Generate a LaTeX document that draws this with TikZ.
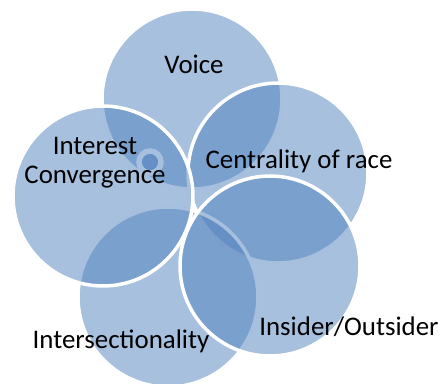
\documentclass[tikz,border=0pt]{standalone}
\usepackage{fontspec}
\setmainfont{Carlito}
\definecolor{tenetblue}{HTML}{4F81BD}

\begin{document}
\begin{tikzpicture}[x=0.02cm,y=-0.02cm]
\tikzset{bubble/.style = {shape=circle, draw=white, line width=0.07cm, fill=tenetblue, fill opacity=0.5, minimum size=3.6cm, inner sep=0pt}}
\tikzset{tenet/.style = {font=\fontsize{15.3}{16.5}\selectfont, align=center, inner sep=0pt}}

\useasboundingbox (0,0) rectangle (440,383);
\clip (0,0) rectangle (440,383);

%circles
\node[bubble] (voice) at (192,99) {};
\node[bubble, minimum size=0.44cm, line width=0.11cm] (dot) at (150,162) {};
\node[bubble] (race) at (278,173) {};
\node[bubble] (inter) at (168,297) {};
\node[bubble] (insider) at (270,266) {};
\node[bubble] (conv) at (103,196) {};

%labels
\node[tenet] (voicetext) at (194,64) {Voice};
\node[tenet] (racetext) at (299,161) {Centrality of race};
\node[tenet] (insidertext) at (349,327) {Insider/Outsider};
\node[tenet] (intertext) at (121,341) {Intersectionality};
\node[tenet] (convtext) at (95,163) {Interest\\Convergence};

\end{tikzpicture}
\end{document}
